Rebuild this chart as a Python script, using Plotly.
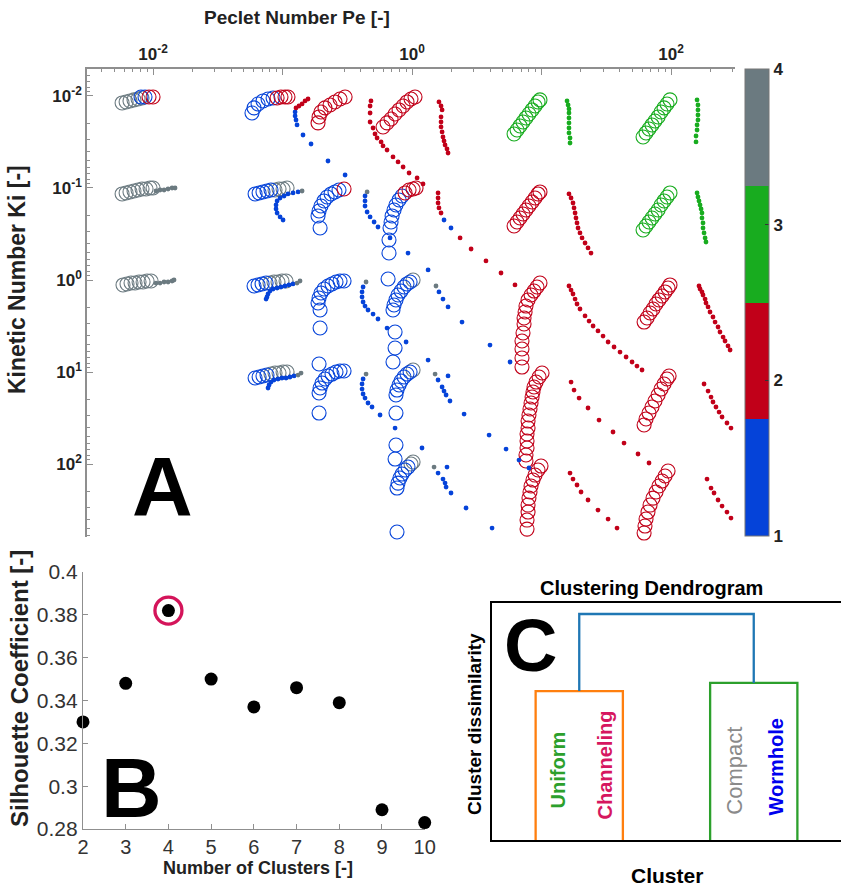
import numpy as np
import plotly.graph_objects as go

W, H = 841, 889

# ============ Panel A: trajectory markers, values are log10(Pe) and log10(Ki) ============
# Cluster 4 (gray) open circles
GRAY_CIRC_LPE = [-2.239, -2.208, -2.178, -2.147, -2.116, -2.085,
                 -2.239, -2.208, -2.178, -2.147, -2.116, -2.085, -2.054, -2.023, -2.000,
                 -1.058, -1.027, -0.996, -0.965,
                 -2.232, -2.201, -2.170, -2.139, -2.108, -2.077, -2.046, -2.015,
                 -1.097, -1.066, -1.035, -1.004, -0.973,
                 0.008,
                 -1.089, -1.058, -1.027, -0.996, -0.965,
                 0.008, -0.008, 0.008]
GRAY_CIRC_LKI = [-1.924, -1.935, -1.946, -1.957, -1.967, -1.978,
                 -0.935, -0.946, -0.957, -0.967, -0.978, -0.989, -0.989, -1.000, -1.000,
                 -0.978, -0.989, -0.989, -1.000,
                 0.054, 0.043, 0.033, 0.033, 0.022, 0.022, 0.011, 0.011,
                 0.033, 0.022, 0.022, 0.011, 0.011,
                 0.000,
                 1.022, 1.011, 1.011, 1.000, 1.000,
                 0.978, 2.000, 1.978]

# Cluster 1 (blue) open circles
BLUE_CIRC_LPE = [-2.093, -2.062,
                 -1.236, -1.220, -1.189, -1.151, -1.112, -1.073,
                 -1.212, -1.181, -1.151, -1.120, -1.089,
                 -0.710, -0.726, -0.718, -0.703, -0.680, -0.656, -0.625, -0.595, -0.564,
                 -0.077, -0.100, -0.124, -0.139, -0.154, -0.162, -0.170, -0.178, -0.178, -0.185,
                 -1.220, -1.189, -1.158, -1.127,
                 -0.710, -0.710, -0.726, -0.718, -0.703, -0.680, -0.649, -0.618, -0.587, -0.556, -0.525,
                 -0.147, -0.139, -0.124, -0.108, -0.085, -0.062, -0.039, -0.015, -0.131, -0.131, -0.147,
                 -1.212, -1.181, -1.151, -1.120,
                 -0.718, -0.710, -0.695, -0.672, -0.649, -0.618, -0.587, -0.556, -0.525, -0.718, -0.718,
                 -0.124, -0.116, -0.100, -0.085, -0.062, -0.039, -0.015, -0.124, -0.124,
                 -0.116, -0.108, -0.093, -0.077, -0.054, -0.031, -0.131, -0.116]
BLUE_CIRC_LKI = [-1.989, -1.989,
                 -1.815, -1.870, -1.913, -1.946, -1.967, -1.978,
                 -0.935, -0.946, -0.957, -0.967, -0.978,
                 -0.565, -0.696, -0.750, -0.804, -0.859, -0.902, -0.935, -0.957, -0.978,
                 -0.913, -0.870, -0.815, -0.761, -0.696, -0.630, -0.565, -0.435, -0.293, -0.011,
                 0.065, 0.054, 0.043, 0.033,
                 0.522, 0.326, 0.250, 0.196, 0.141, 0.098, 0.065, 0.043, 0.022, 0.011, 0.011,
                 0.326, 0.272, 0.217, 0.163, 0.120, 0.076, 0.043, 0.022, 0.565, 0.739, 0.891,
                 1.065, 1.054, 1.043, 1.033,
                 1.228, 1.174, 1.120, 1.076, 1.043, 1.022, 1.000, 0.989, 0.989, 1.446, 0.913,
                 1.250, 1.196, 1.141, 1.098, 1.054, 1.022, 1.000, 1.446, 1.793,
                 2.261, 2.207, 2.152, 2.109, 2.065, 2.033, 1.946, 2.739]

# Cluster 2 (red) open circles
RED_CIRC_LPE = [-2.031, -2.000,
                -1.042, -1.012, -0.981, -0.958,
                -0.726, -0.718, -0.703, -0.672, -0.633, -0.595, -0.556, -0.517,
                -0.224, -0.193, -0.162, -0.131, -0.100, -0.069, -0.039, -0.008, 0.023,
                -0.525,
                -0.054, -0.023, 0.008, 0.031,
                0.788, 0.811, 0.834, 0.857, 0.880, 0.903, 0.927, 0.950, 0.973, 0.988,
                0.988, 0.965, 0.942, 0.919, 0.896, 0.880, 0.873, 0.865, 0.865, 0.857, 0.849, 0.849, 0.849, 0.849,
                1.792, 1.815, 1.838, 1.861, 1.884, 1.907, 1.931, 1.954, 1.977, 1.992,
                1.004, 0.981, 0.958, 0.942, 0.934, 0.927, 0.919, 0.911, 0.903, 0.896, 0.896, 0.888, 0.888, 0.888, 0.880, 0.880,
                1.792, 1.807, 1.830, 1.853, 1.876, 1.900, 1.923, 1.946, 1.969, 1.985,
                0.996, 0.973, 0.950, 0.934, 0.919, 0.911, 0.903, 0.896, 0.896, 0.888, 0.888,
                1.977, 1.954, 1.931, 1.907, 1.884, 1.861, 1.838, 1.822, 1.807, 1.799, 1.792]
RED_CIRC_LKI = [-1.989, -1.989,
                -1.978, -1.989, -1.989, -1.989,
                -1.707, -1.772, -1.826, -1.870, -1.902, -1.935, -1.967, -1.989,
                -1.663, -1.707, -1.750, -1.804, -1.848, -1.891, -1.935, -1.967, -1.989,
                -0.989,
                -0.946, -0.978, -0.989, -1.000,
                -0.587, -0.630, -0.674, -0.717, -0.761, -0.804, -0.848, -0.891, -0.935, -0.957,
                0.033, 0.076, 0.120, 0.163, 0.217, 0.283, 0.348, 0.413, 0.478, 0.576, 0.663, 0.750, 0.848, 0.946,
                0.457, 0.413, 0.359, 0.315, 0.261, 0.217, 0.174, 0.130, 0.087, 0.054,
                1.011, 1.054, 1.109, 1.163, 1.217, 1.272, 1.337, 1.402, 1.467, 1.533, 1.609, 1.674, 1.750, 1.826, 1.902, 1.967,
                1.576, 1.511, 1.446, 1.380, 1.315, 1.250, 1.185, 1.130, 1.076, 1.043,
                2.022, 2.065, 2.120, 2.174, 2.239, 2.304, 2.370, 2.446, 2.522, 2.609, 2.707,
                2.076, 2.130, 2.185, 2.239, 2.304, 2.370, 2.446, 2.522, 2.598, 2.674, 2.750]

# Cluster 3 (green) open circles
GREEN_CIRC_LPE = [0.788, 0.811, 0.834, 0.857, 0.880, 0.903, 0.927, 0.950, 0.973, 0.988,
                  1.784, 1.807, 1.830, 1.853, 1.876, 1.900, 1.923, 1.946, 1.969, 1.992,
                  1.784, 1.807, 1.830, 1.853, 1.876, 1.900, 1.923, 1.946, 1.969, 1.992]
GREEN_CIRC_LKI = [-1.587, -1.630, -1.674, -1.717, -1.761, -1.804, -1.848, -1.891, -1.935, -1.957,
                  -1.554, -1.598, -1.641, -1.685, -1.728, -1.772, -1.826, -1.870, -1.913, -1.957,
                  -0.543, -0.587, -0.630, -0.674, -0.717, -0.761, -0.815, -0.859, -0.902, -0.946]

# Small dots
GRAY_DOT_LPE = [-1.977, -1.946, -1.915, -1.884, -1.853, -1.830,
                -1.977, -1.946, -1.915, -1.884, -1.853, -1.838,
                -0.849, -0.347, -0.865, -0.888, -0.355, 0.185, -0.857, -0.880, -0.355, 0.178, 0.170]
GRAY_DOT_LKI = [-0.967, -0.978, -0.978, -0.989, -1.000, -1.000,
                0.033, 0.033, 0.022, 0.022, 0.011, 0.000,
                -0.967, -0.957, 0.011, 0.033, 0.022, 0.065, 1.011, 1.033, 1.022, 1.022, 2.033]

BLUE_DOT_LPE = [-0.903, -0.903, -0.896, -0.888, -0.842, -0.780, -0.649, -0.517,
                -0.880, -0.919, -0.958, -0.988, -1.019, -1.042, -1.050, -1.050, -1.042, -1.019, -0.996,
                -0.363, -0.363, -0.363, -0.347, -0.324, -0.293, -0.263, -0.170, -0.031, 0.124,
                0.247, 0.301,
                -0.919, -0.950, -0.981, -1.012, -1.042, -1.073, -1.097, -1.112, -1.120, -1.127,
                -0.378, -0.386, -0.386, -0.378, -0.363, -0.340, -0.301, -0.263, -0.193, -0.046, 0.124,
                0.208, 0.239, 0.278, 0.386, 0.602, 0.757,
                -0.911, -0.942, -0.973, -1.004, -1.035, -1.066, -1.089, -1.104, -1.112,
                -0.378, -0.386, -0.386, -0.378, -0.363, -0.340, -0.309, -0.247, -0.131, 0.077,
                0.201, 0.232, 0.247, 0.263, 0.293, 0.402, 0.595, 0.726, 0.826, 0.903, 0.278,
                0.201, 0.239, 0.255, 0.263, 0.301, 0.417, 0.618, 0.270]
BLUE_DOT_LKI = [-1.826, -1.783, -1.739, -1.685, -1.576, -1.478, -1.293, -1.141,
                -0.957, -0.946, -0.935, -0.913, -0.891, -0.859, -0.815, -0.772, -0.728, -0.685, -0.652,
                -0.913, -0.859, -0.804, -0.739, -0.685, -0.630, -0.576, -0.457, -0.293, -0.109,
                -0.652, -0.565,
                0.043, 0.054, 0.065, 0.076, 0.087, 0.098, 0.120, 0.152, 0.185, 0.207,
                0.076, 0.130, 0.185, 0.239, 0.283, 0.326, 0.370, 0.424, 0.522, 0.674, 0.870,
                0.130, 0.207, 0.293, 0.457, 0.707, 0.891,
                1.043, 1.054, 1.065, 1.065, 1.076, 1.087, 1.109, 1.141, 1.174,
                1.076, 1.130, 1.185, 1.239, 1.283, 1.337, 1.380, 1.467, 1.609, 1.826,
                1.087, 1.163, 1.207, 1.250, 1.315, 1.457, 1.685, 1.837, 1.957, 2.043, 1.043,
                2.098, 2.163, 2.207, 2.250, 2.315, 2.478, 2.696, 2.033]

RED_DOT_LPE = [-0.896, -0.873, -0.849, -0.826, -0.803,
               -0.317, -0.324, -0.324, -0.324, -0.301, -0.286, -0.270, -0.239, -0.224, -0.193, -0.147, -0.108, -0.069, -0.023, 0.039, 0.085,
               0.208, 0.224, 0.232, 0.224, 0.224, 0.224, 0.232, 0.239, 0.247, 0.255, 0.270, 0.278,
               0.201, 0.201, 0.201, 0.208, 0.224, 0.371, 0.456, 0.571, 0.687, 0.795,
               1.212, 1.228, 1.243, 1.251, 1.259, 1.266, 1.274, 1.282, 1.297, 1.313, 1.336, 1.359, 1.382,
               1.212, 1.228, 1.243, 1.259, 1.274, 1.297, 1.336, 1.367, 1.398, 1.436, 1.475, 1.514, 1.560, 1.606, 1.653, 1.699, 1.737, 1.776,
               2.216, 2.224, 2.239, 2.247, 2.263, 2.270, 2.286, 2.301, 2.324, 2.340, 2.363, 2.378, 2.402, 2.417, 2.440, 2.456,
               1.228, 1.251, 1.290, 1.359, 1.444, 1.552, 1.637, 1.745, 1.830,
               2.255, 2.286, 2.309, 2.324, 2.347, 2.371, 2.394, 2.432, 2.463,
               1.220, 1.243, 1.274, 1.305, 1.359, 1.436, 1.514, 1.583,
               2.278, 2.309, 2.332, 2.363, 2.394, 2.432, 2.463]
RED_DOT_LKI = [-1.870, -1.891, -1.913, -1.946, -1.967,
               -1.946, -1.891, -1.815, -1.717, -1.652, -1.587, -1.543, -1.500, -1.457, -1.413, -1.337, -1.283, -1.228, -1.163, -1.109, -1.043,
               -1.935, -1.891, -1.848, -1.772, -1.717, -1.663, -1.609, -1.554, -1.511, -1.467, -1.424, -1.380,
               -0.946, -0.891, -0.837, -0.783, -0.728, -0.457, -0.337, -0.207, -0.076, 0.054,
               -0.935, -0.891, -0.837, -0.783, -0.728, -0.674, -0.620, -0.565, -0.511, -0.457, -0.402, -0.348, -0.293,
               0.065, 0.109, 0.152, 0.207, 0.261, 0.315, 0.391, 0.446, 0.500, 0.554, 0.609, 0.674, 0.728, 0.783, 0.837, 0.891, 0.935, 0.978,
               0.065, 0.098, 0.130, 0.163, 0.207, 0.250, 0.293, 0.348, 0.402, 0.457, 0.511, 0.565, 0.620, 0.663, 0.717, 0.761,
               1.109, 1.196, 1.283, 1.391, 1.522, 1.652, 1.772, 1.891, 1.989,
               1.130, 1.207, 1.272, 1.326, 1.380, 1.435, 1.489, 1.554, 1.609,
               2.098, 2.163, 2.228, 2.304, 2.391, 2.500, 2.598, 2.696,
               2.163, 2.261, 2.315, 2.391, 2.457, 2.522, 2.587]

GREEN_DOT_LPE = [1.197, 1.205, 1.212, 1.212, 1.212, 1.212, 1.212, 1.212, 1.220, 1.220,
                 2.201, 2.208, 2.208, 2.208, 2.208, 2.201, 2.201, 2.193, 2.193,
                 2.201, 2.208, 2.216, 2.224, 2.232, 2.239, 2.239, 2.247, 2.247, 2.255, 2.263, 2.270]
GREEN_DOT_LKI = [-1.946, -1.902, -1.859, -1.815, -1.761, -1.707, -1.652, -1.598, -1.543, -1.489,
                 -1.957, -1.902, -1.848, -1.793, -1.739, -1.685, -1.630, -1.565, -1.500,
                 -0.946, -0.902, -0.859, -0.815, -0.772, -0.728, -0.674, -0.620, -0.565, -0.511, -0.457, -0.413]

CLUSTER_COLORS = ['#0543D9', '#C10019', '#18AC1F', '#6B7A80']   # clusters 1..4
A_XTICKS = [1e-2, 1e-1, 1e0, 1e1, 1e2]
A_XTICKTEXT = ['10<sup>-2</sup>', '', '10<sup>0</sup>', '', '10<sup>2</sup>']
A_YTICKS = [1e-2, 1e-1, 1e0, 1e1, 1e2]
A_YTICKTEXT = ['10<sup>-2</sup>', '10<sup>-1</sup>', '10<sup>0</sup>', '10<sup>1</sup>', '10<sup>2</sup>']

# ============ Panel B ============
N_CLUSTERS = [2, 3, 4, 5, 6, 7, 8, 9, 10]
SILHOUETTE = [0.330, 0.348, 0.382, 0.350, 0.337, 0.346, 0.339, 0.289, 0.283]
BEST_K = 4
B_YTICKS = [0.28, 0.30, 0.32, 0.34, 0.36, 0.38, 0.40]
B_YTICKTEXT = ['0.28', '0.3', '0.32', '0.34', '0.36', '0.38', '0.4']

# ============ Panel C ============
LEAF_NAMES = ['Uniform', 'Channeling', 'Compact', 'Wormhole']
LEAF_COLORS = ['#2ca02c', '#d6175f', '#8a8a8a', '#0000ee']
LEAF_X = [5, 15, 25, 35]
PAIR_HEIGHTS = [0.659, 0.695]          # (Uniform,Channeling), (Compact,Wormhole)
ROOT_HEIGHT = 1.0
LINK_COLORS = ['#ff7f0e', '#2ca02c', '#1f77b4']

FONT = 'Liberation Sans, Arial, sans-serif'

fig = go.Figure()

def add_glyphs(lpe, lki, cluster, open_circle):
    n = len(lpe)
    if open_circle:
        marker = dict(symbol='circle-open', size=14, color=[cluster] * n,
                      coloraxis='coloraxis', line=dict(width=1.1))
    else:
        marker = dict(symbol='circle', size=4.8, color=[cluster] * n,
                      coloraxis='coloraxis', line=dict(width=0))
    fig.add_trace(go.Scatter(x=10 ** np.array(lpe), y=10 ** np.array(lki), mode='markers',
                             marker=marker, xaxis='x', yaxis='y', showlegend=False,
                             hoverinfo='skip', cliponaxis=False))

add_glyphs(GRAY_CIRC_LPE, GRAY_CIRC_LKI, 4, True)
add_glyphs(BLUE_CIRC_LPE, BLUE_CIRC_LKI, 1, True)
add_glyphs(RED_CIRC_LPE, RED_CIRC_LKI, 2, True)
add_glyphs(GREEN_CIRC_LPE, GREEN_CIRC_LKI, 3, True)
add_glyphs(BLUE_DOT_LPE, BLUE_DOT_LKI, 1, False)
add_glyphs(RED_DOT_LPE, RED_DOT_LKI, 2, False)
add_glyphs(GREEN_DOT_LPE, GREEN_DOT_LKI, 3, False)
add_glyphs(GRAY_DOT_LPE, GRAY_DOT_LKI, 4, False)

# Panel B traces
fig.add_trace(go.Scatter(x=N_CLUSTERS, y=SILHOUETTE, mode='markers',
                         marker=dict(color='black', size=13), xaxis='x2', yaxis='y2',
                         showlegend=False, hoverinfo='skip', cliponaxis=False))
fig.add_trace(go.Scatter(x=[BEST_K], y=[SILHOUETTE[N_CLUSTERS.index(BEST_K)]], mode='markers',
                         marker=dict(symbol='circle-open', color='#d4145a', size=27,
                                     line=dict(width=3.3, color='#d4145a')),
                         xaxis='x2', yaxis='y2', showlegend=False, hoverinfo='skip', cliponaxis=False))

# Panel C dendrogram
for i, h in enumerate(PAIR_HEIGHTS):
    xl, xr = LEAF_X[2 * i], LEAF_X[2 * i + 1]
    fig.add_trace(go.Scatter(x=[xl, xl, xr, xr], y=[0, h, h, 0], mode='lines',
                             line=dict(color=LINK_COLORS[i], width=2.3), xaxis='x3', yaxis='y3',
                             showlegend=False, hoverinfo='skip', cliponaxis=False))
mid0 = (LEAF_X[0] + LEAF_X[1]) / 2
mid1 = (LEAF_X[2] + LEAF_X[3]) / 2
fig.add_trace(go.Scatter(x=[mid0, mid0, mid1, mid1], y=[PAIR_HEIGHTS[0], ROOT_HEIGHT, ROOT_HEIGHT, PAIR_HEIGHTS[1]],
                         mode='lines', line=dict(color=LINK_COLORS[2], width=2.3), xaxis='x3', yaxis='y3',
                         showlegend=False, hoverinfo='skip', cliponaxis=False))

def px(x):
    return x / W

def py(y):
    return 1 - y / H

minor_vals = [m * 10.0 ** d for d in range(-3, 3) for m in range(2, 10)]
axcol = '#8f8f8f'

fig.update_layout(
    width=W, height=H, margin=dict(l=0, r=0, t=0, b=0, pad=0, autoexpand=False),
    paper_bgcolor='white', plot_bgcolor='white', hovermode=False,
    font=dict(family=FONT, color='#222'),
    coloraxis=dict(
        cmin=1, cmax=4,
        colorscale=[[0, CLUSTER_COLORS[0]], [0.25, CLUSTER_COLORS[0]],
                    [0.25, CLUSTER_COLORS[1]], [0.5, CLUSTER_COLORS[1]],
                    [0.5, CLUSTER_COLORS[2]], [0.75, CLUSTER_COLORS[2]],
                    [0.75, CLUSTER_COLORS[3]], [1, CLUSTER_COLORS[3]]],
        colorbar=dict(x=px(745), xanchor='left', y=py(302.5), yanchor='middle',
                      len=467 / H, lenmode='fraction', thickness=24, thicknessmode='pixels',
                      xpad=0, ypad=0, outlinecolor='#777', outlinewidth=1,
                      tickvals=[1, 2, 3, 4], ticktext=['1', '2', '3', '4'], ticks='inside', ticklen=4,
                      tickcolor='#333',
                      tickfont=dict(family=FONT, size=17, color='#222', weight='bold')),
    ),
    xaxis=dict(type='log', range=[-2.51, 2.494], domain=[px(87), px(735)], anchor='y', side='top',
               automargin=False,
               showline=True, linecolor=axcol, linewidth=1.5, ticks='inside', ticklen=6, tickcolor=axcol,
               tickvals=A_XTICKS, ticktext=A_XTICKTEXT, showgrid=False, zeroline=False,
               tickfont=dict(family=FONT, size=17, color='#222', weight='bold'),
               minor=dict(tickvals=minor_vals, ticks='inside', ticklen=3, tickcolor=axcol, showgrid=False)),
    yaxis=dict(type='log', range=[2.793, -2.293], domain=[py(537), py(69)], anchor='x',
               automargin=False,
               showline=True, linecolor=axcol, linewidth=1.5, ticks='inside', ticklen=6, tickcolor=axcol,
               tickvals=A_YTICKS, ticktext=A_YTICKTEXT, showgrid=False, zeroline=False,
               tickfont=dict(family=FONT, size=17, color='#222', weight='bold'),
               minor=dict(tickvals=minor_vals, ticks='inside', ticklen=3, tickcolor=axcol, showgrid=False)),
    xaxis2=dict(range=[2, 10], domain=[px(83), px(424.7)], anchor='y2', automargin=False,
                showline=True, linecolor=axcol, linewidth=1.3, ticks='inside', ticklen=5, tickcolor=axcol,
                tickvals=N_CLUSTERS, showgrid=False, zeroline=False,
                tickfont=dict(family=FONT, size=20, color='#333')),
    yaxis2=dict(range=[0.28, 0.40], domain=[py(829), py(572)], anchor='x2', automargin=False,
                showline=True, linecolor=axcol, linewidth=1.3, ticks='inside', ticklen=5, tickcolor=axcol,
                tickvals=B_YTICKS, ticktext=B_YTICKTEXT, showgrid=False, zeroline=False,
                tickfont=dict(family=FONT, size=21, color='#333')),
    xaxis3=dict(range=[0, 40], domain=[px(492), 1.0], anchor='y3', showline=True, mirror=True,
                automargin=False,
                linecolor='black', linewidth=1.5, showticklabels=False, ticks='', showgrid=False, zeroline=False),
    yaxis3=dict(range=[0, 1.0487], domain=[py(840), py(603)], anchor='x3', showline=True, mirror=True,
                automargin=False,
                linecolor='black', linewidth=1.5, showticklabels=False, ticks='', showgrid=False, zeroline=False),
)

def ann(text, x, y, size, angle=0, color='black', weight='bold', xref='paper', yref='paper'):
    fig.add_annotation(text=text, x=x, y=y, xref=xref, yref=yref, showarrow=False, textangle=angle,
                       xanchor='center', yanchor='middle',
                       font=dict(family=FONT, size=size, color=color, weight=weight))

# Panel A labels
ann('Peclet Number Pe [-]', px(297), py(18), 19, color='#222')
ann('Kinetic Number Ki [-]', px(17), py(280), 23, angle=-90, color='#222')
ann('A', px(162), py(487), 84)
# Panel B labels
ann('Silhouette Coefficient [-]', px(19), py(689), 24, angle=-90, color='#222')
ann('Number of Clusters [-]', px(258), py(868), 18, color='#222')
ann('B', px(131), py(788), 84)
# Panel C labels
ann('Clustering Dendrogram', px(651), py(588), 20)
ann('Cluster dissimilarity', px(474), py(724), 19, angle=-90)
ann('Cluster', px(667), py(875), 21)
ann('C', px(530), py(645), 74)
LEAF_LABEL_X = [7.5, 12.9, 27.8, 32.5]
LEAF_LABEL_Y = [0.31, 0.332, 0.305, 0.323]
LEAF_SIZES = [20, 20, 22, 20]
for name, col, lx, ly, sz in zip(LEAF_NAMES, LEAF_COLORS, LEAF_LABEL_X, LEAF_LABEL_Y, LEAF_SIZES):
    ann(name, lx, ly, sz, angle=-90, color=col, weight='normal' if name == 'Compact' else 'bold',
        xref='x3', yref='y3')

fig.write_html('out.html')
